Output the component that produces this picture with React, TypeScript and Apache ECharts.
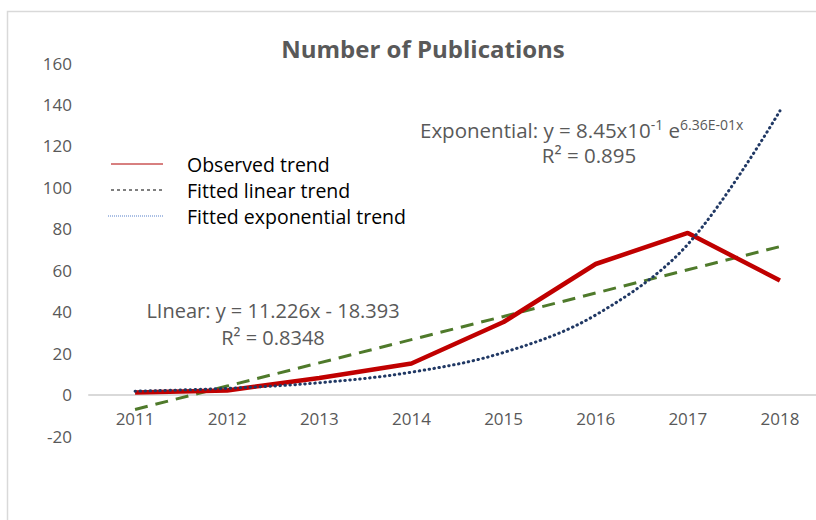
import React, { useEffect, useRef } from "react";
import * as echarts from "echarts";

const years = ["2011", "2012", "2013", "2014", "2015", "2016", "2017", "2018"];
const observed = [1, 2, 8, 15, 35, 63, 78, 55];
const linearFit = [-7.2, 4.1, 15.3, 26.5, 37.7, 49.0, 60.2, 71.4];
const expFit = [1.6, 3.0, 5.7, 10.8, 20.3, 38.4, 72.5, 136.9];
const legendLabels = ["Observed trend", "Fitted linear trend", "Fitted exponential trend"];
const titleText = "Number of Publications";

const FONT = "'Open Sans', 'Noto Sans', sans-serif";

export default function App() {
  const ref = useRef<HTMLDivElement>(null);
  useEffect(() => {
    if (!ref.current) return;
    const chart = echarts.init(ref.current, undefined, { renderer: "svg" });
    chart.setOption({
      animation: false,
      backgroundColor: "#ffffff",
      title: {
        text: titleText,
        left: 418,
        top: 31,
        textAlign: "center",
        textStyle: { fontFamily: FONT, fontSize: 24, fontWeight: "bold", color: "#595959" },
      },
      grid: { left: 89, right: 0, top: 63, bottom: 84 },
      xAxis: {
        type: "category",
        data: years,
        boundaryGap: true,
        axisLine: { onZero: true, lineStyle: { color: "#d9d9d9", width: 2 } },
        axisTick: { show: false },
        axisLabel: { color: "#595959", fontFamily: FONT, fontSize: 17, margin: -26 },
        splitLine: { show: false },
      },
      yAxis: {
        type: "value",
        min: -20,
        max: 160,
        interval: 20,
        axisLine: { show: false },
        axisTick: { show: false },
        splitLine: { show: false },
        axisLabel: { color: "#595959", fontFamily: FONT, fontSize: 17, margin: 17 },
      },
      series: [
        {
          name: legendLabels[1],
          type: "line",
          data: linearFit,
          symbol: "none",
          lineStyle: { color: "#4f7a2b", width: 3, type: [13, 8] },
          z: 2,
        },
        {
          name: legendLabels[0],
          type: "line",
          data: observed,
          symbol: "none",
          lineStyle: { color: "#c00000", width: 4.5 },
          z: 3,
        },
        {
          name: legendLabels[2],
          type: "line",
          data: expFit,
          symbol: "none",
          smooth: 0.35,
          lineStyle: { color: "#203864", width: 3, type: [0.5, 4.5], cap: "round" },
          z: 4,
        },
      ],
      graphic: [
        {
          type: "rect",
          shape: { x: 7.5, y: 11.5, width: 900, height: 600 },
          style: { fill: "none", stroke: "#d9d9d9", lineWidth: 1.5 },
          silent: true,
          z: 0,
        },
        {
          type: "line",
          shape: { x1: 111, y1: 164, x2: 163, y2: 164 },
          style: { stroke: "#b00000", lineWidth: 1 },
        },
        {
          type: "line",
          shape: { x1: 111, y1: 190, x2: 165, y2: 190 },
          style: { stroke: "#000000", lineWidth: 1, lineDash: [3, 3] },
        },
        {
          type: "line",
          shape: { x1: 108, y1: 216, x2: 163, y2: 216 },
          style: { stroke: "#8faadc", lineWidth: 1.5, lineDash: [1, 1] },
        },
        ...legendLabels.map((t, i) => ({
          type: "text",
          x: 187,
          y: 164 + i * 26,
          style: {
            text: t,
            fontFamily: FONT,
            fontSize: 19.5,
            fill: "#000000",
            verticalAlign: "middle",
          },
        })),
        {
          type: "text",
          x: 420,
          y: 127,
          style: {
            text: "{n|Exponential: y = 8.45x10}{s|-1}{n| e}{s|6.36E-01x}",
            fontFamily: FONT,
            verticalAlign: "middle",
            rich: {
              n: { fontFamily: FONT, fontSize: 20.5, fill: "#595959", color: "#595959", verticalAlign: "bottom", lineHeight: 26 },
              s: { fontFamily: FONT, fontSize: 14, fill: "#595959", color: "#595959", verticalAlign: "bottom", lineHeight: 15, padding: [0, 0, 9, 0] },
            },
          },
        },
        {
          type: "text",
          x: 589,
          y: 155,
          style: {
            text: "R² = 0.895",
            fontFamily: FONT,
            fontSize: 20.5,
            fill: "#595959",
            align: "center",
            verticalAlign: "middle",
          },
        },
        {
          type: "text",
          x: 273,
          y: 310,
          style: {
            text: "LInear: y = 11.226x - 18.393",
            fontFamily: FONT,
            fontSize: 20,
            fill: "#595959",
            align: "center",
            verticalAlign: "middle",
          },
        },
        {
          type: "text",
          x: 273,
          y: 337,
          style: {
            text: "R² = 0.8348",
            fontFamily: FONT,
            fontSize: 20,
            fill: "#595959",
            align: "center",
            verticalAlign: "middle",
          },
        },
      ],
    });
    return () => chart.dispose();
  }, []);
  return (
    <div style={{ position: "absolute", left: 0, top: 0, width: 816, height: 520, overflow: "hidden" }}>
      <div ref={ref} style={{ width: 826, height: 520 }} />
    </div>
  );
}
